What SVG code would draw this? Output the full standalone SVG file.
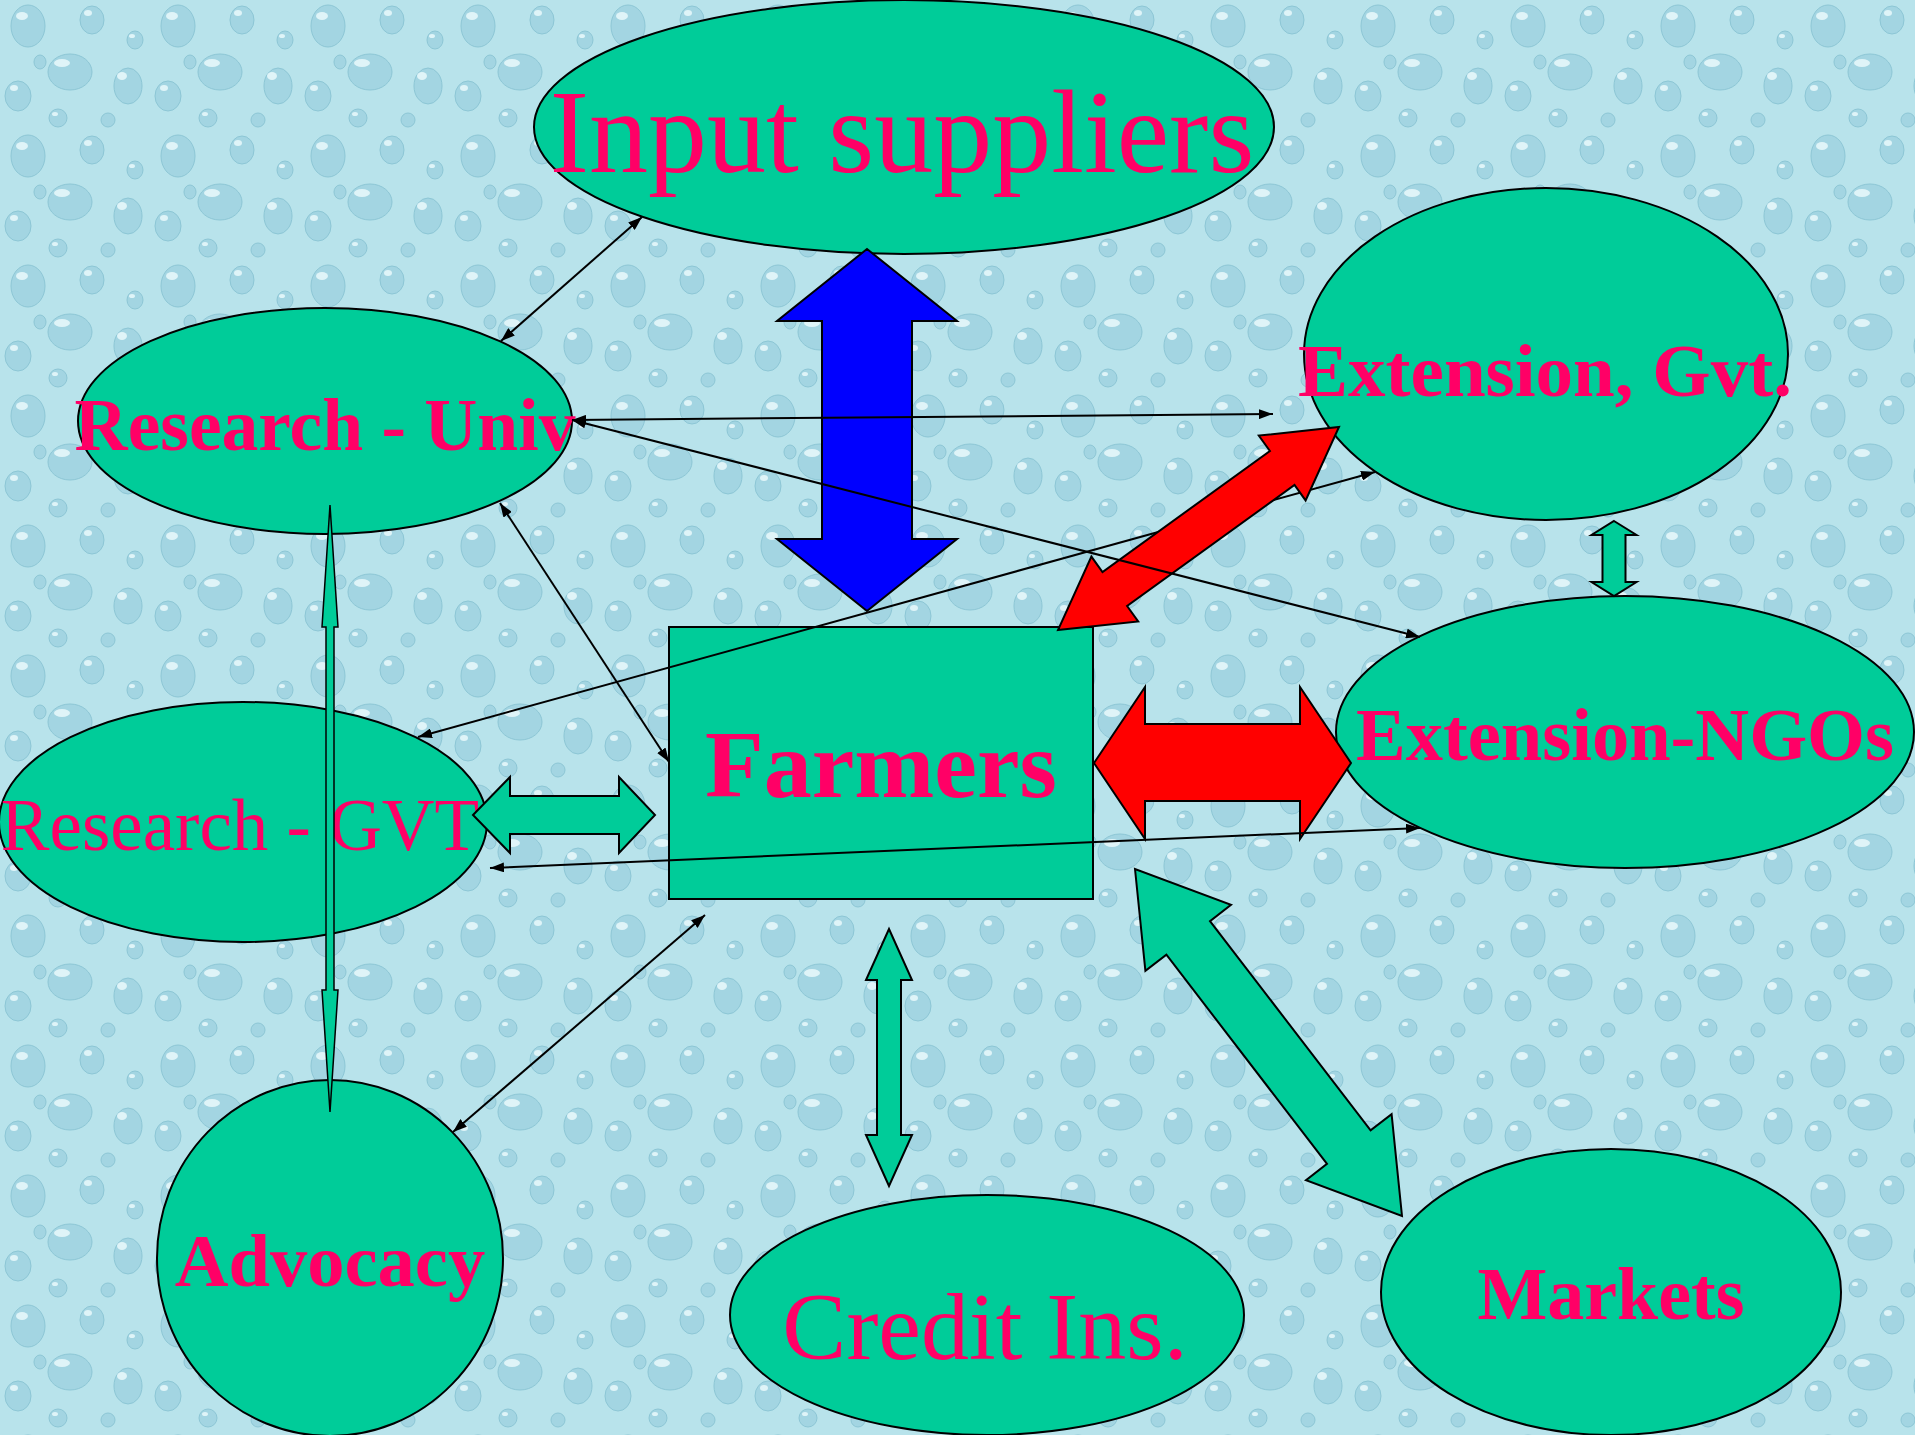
<svg xmlns="http://www.w3.org/2000/svg" width="1915" height="1435" viewBox="0 0 1915 1435">
<defs>
<pattern id="drops" width="150" height="130" patternUnits="userSpaceOnUse">
<rect width="150" height="130" fill="#b8e3eb"/>
<g fill="#a3d5e2" stroke="#8cc6d5" stroke-width="1">
<ellipse cx="28" cy="26" rx="17" ry="21"/>
<ellipse cx="92" cy="20" rx="12" ry="14"/>
<ellipse cx="70" cy="72" rx="22" ry="18"/>
<ellipse cx="18" cy="96" rx="13" ry="15"/>
<ellipse cx="128" cy="86" rx="14" ry="18"/>
<ellipse cx="58" cy="118" rx="9" ry="9"/>
<ellipse cx="135" cy="40" rx="8" ry="9"/>
<ellipse cx="108" cy="120" rx="7" ry="7"/>
<ellipse cx="40" cy="62" rx="6" ry="7"/>
</g>
<g fill="#dff4f8">
<ellipse cx="22" cy="16" rx="6" ry="4"/>
<ellipse cx="88" cy="13" rx="4" ry="3"/>
<ellipse cx="62" cy="63" rx="8" ry="4"/>
<ellipse cx="14" cy="88" rx="4" ry="3"/>
<ellipse cx="122" cy="76" rx="5" ry="4"/>
<ellipse cx="55" cy="114" rx="3" ry="2"/>
<ellipse cx="132" cy="36" rx="3" ry="2"/>
</g>
</pattern>
<marker id="ah" viewBox="0 0 14 10" refX="14" refY="5" markerWidth="14" markerHeight="10" markerUnits="userSpaceOnUse" orient="auto-start-reverse">
<path d="M0,0 L14,5 L0,10 z" fill="#000"/>
</marker>
<style>
.node{fill:#00cc99;stroke:#000;stroke-width:2}
.t{fill:#ff0066;font-family:"Liberation Serif","Times New Roman",serif;text-anchor:middle}
.b{font-weight:bold}
.ln{fill:none;stroke:#000;stroke-width:2;marker-start:url(#ah);marker-end:url(#ah)}
.blk{stroke:#000;stroke-width:2;stroke-linejoin:miter}
.teal{fill:#00cc99}
.red{fill:#ff0000}
.blue{fill:#0000ff}
</style>
</defs>
<rect x="0" y="0" width="1915" height="1435" fill="url(#drops)"/>

<g id="input-suppliers">
<ellipse class="node" cx="904" cy="127" rx="370" ry="127"/>
<text class="t" x="902" y="172" font-size="118">Input suppliers</text>
</g>
<g id="research-univ">
<ellipse class="node" cx="325" cy="421" rx="247" ry="113"/>
<text class="t b" x="325" y="450" font-size="73.5">Research - Univ</text>
</g>
<g id="extension-gvt">
<ellipse class="node" cx="1546" cy="354" rx="242" ry="166"/>
<text class="t b" x="1545" y="396" font-size="75">Extension, Gvt.</text>
</g>
<g id="extension-ngos">
<ellipse class="node" cx="1625" cy="732" rx="289" ry="136"/>
<text class="t b" x="1625" y="760" font-size="74.5">Extension-NGOs</text>
</g>
<g id="research-gvt">
<ellipse class="node" cx="243" cy="822" rx="244" ry="120"/>
<text class="t" x="240" y="850" font-size="73">Research - GVT</text>
</g>
<g id="farmers">
<rect class="node" x="669" y="627" width="424" height="272"/>
<text class="t b" x="881" y="797" font-size="96">Farmers</text>
</g>
<g id="advocacy">
<ellipse class="node" cx="330" cy="1258" rx="173" ry="178"/>
<text class="t b" x="330" y="1286" font-size="74.5">Advocacy</text>
</g>
<g id="credit-ins">
<ellipse class="node" cx="987" cy="1315" rx="257" ry="120"/>
<text class="t" x="985" y="1359" font-size="96">Credit Ins.</text>
</g>
<g id="markets">
<ellipse class="node" cx="1611" cy="1292" rx="230" ry="143"/>
<text class="t b" x="1611" y="1319" font-size="74">Markets</text>
</g>

<g id="connectors">
<line class="ln" x1="418" y1="737" x2="1375" y2="472"/>
<polygon class="blk blue" points="867,249 957,321 912,321 912,539 957,539 867,611 777,539 822,539 822,321 777,321"/>
<polygon class="blk red" points="1058,630 1138.2,621.4 1127.1,606 1294.5,485 1305.6,500.4 1339,427 1258.8,435.6 1269.9,451 1102.5,572 1091.4,556.6"/>
<polygon class="blk red" points="1094,763 1145,687 1145,724 1300,724 1300,687 1351,763 1300,839 1300,801 1145,801 1145,839"/>
<polygon class="blk teal" points="473,815 510,777 510,796 619,796 619,777 655,815 619,853 619,834 510,834 510,853"/>
<polygon class="blk teal" points="889,929 912,980 901,980 901,1135 912,1135 889,1186 866,1135 877,1135 877,980 866,980"/>
<polygon class="blk teal" points="1614,521 1636.5,535 1625.5,535 1625.5,582 1636.5,582 1614,596 1591.5,582 1602.5,582 1602.5,535 1591.5,535"/>
<polygon class="blk teal" points="1135,869 1145.4,970.9 1166.4,954.7 1327,1163.9 1306,1180.1 1402,1216 1391.6,1114.1 1370.6,1130.3 1210,921.1 1231,904.9"/>
<polygon class="teal" stroke="#000" stroke-width="1.5" points="330,505 338,627 334,627 334,990 338,990 330,1112 322,990 326,990 326,627 322,627"/>
<line class="ln" x1="501" y1="341" x2="642" y2="217"/>
<line class="ln" x1="572" y1="420" x2="1273" y2="414"/>
<line class="ln" x1="572" y1="420" x2="1420" y2="637"/>
<line class="ln" x1="500" y1="503" x2="669" y2="762"/>
<line class="ln" x1="490" y1="868" x2="1420" y2="828"/>
<line class="ln" x1="453" y1="1132" x2="705" y2="915"/>
</g>
</svg>
